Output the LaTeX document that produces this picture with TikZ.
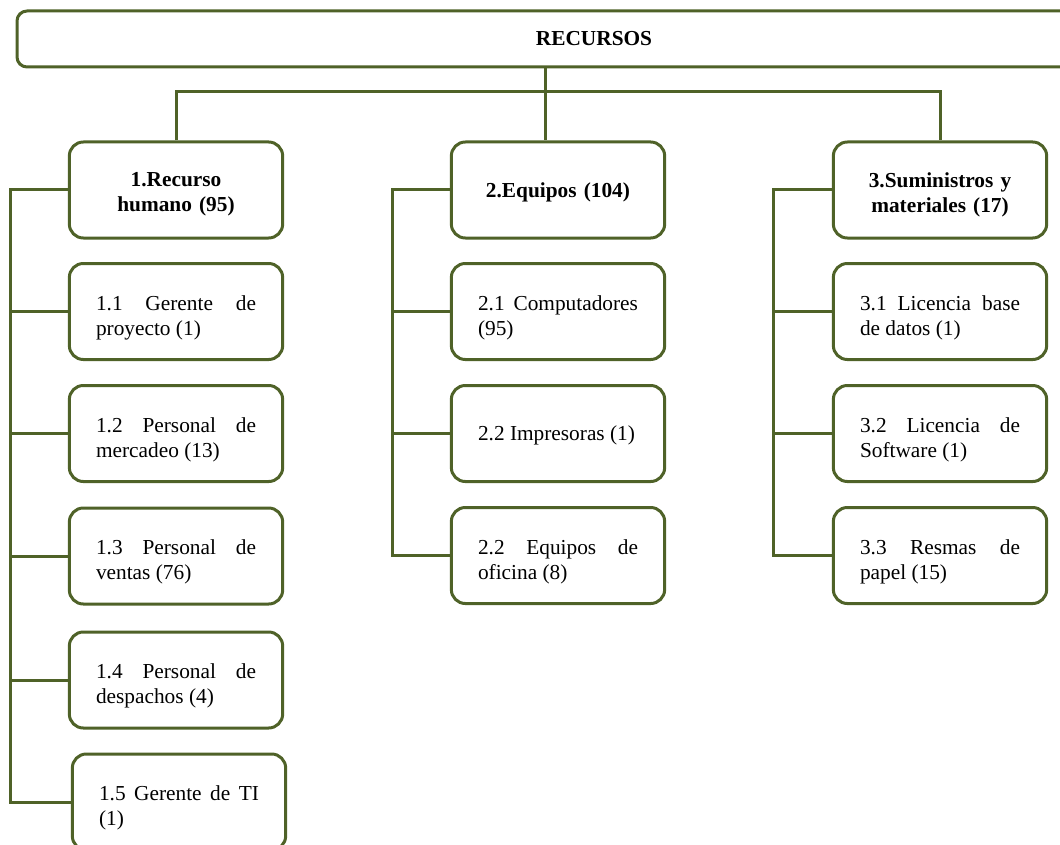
\documentclass[tikz,border=0pt]{standalone}
\usepackage{fontspec}
\setmainfont{Liberation Serif}
\definecolor{olivo}{RGB}{79,98,40}

\tikzset{
  linea/.style={draw=olivo, line width=2.25pt},
  caja/.style={draw=olivo, line width=2.25pt, rounded corners=10.5pt, fill=white,
    minimum width=160pt, minimum height=72pt, inner sep=0pt,
    font=\fontsize{16}{18.75}\selectfont},
  cajatop/.style={caja, minimum width=865.5pt, minimum height=42pt, rounded corners=7.5pt,
    font=\fontsize{16}{18.75}\selectfont\bfseries},
  titulo/.style={caja, text width=120pt, align=center,
    font=\fontsize{16}{18.75}\selectfont\bfseries, execute at end node={\par\vspace*{-7pt}}},
  item/.style={caja, text width=120pt, align=justify, execute at end node={\par\vspace*{-9pt}}}
}

\begin{document}
\begin{tikzpicture}[x=0.75pt,y=0.75pt,yscale=-1,xscale=1]
  \useasboundingbox (0,0) rectangle (1060,845);
  \clip (0,0) rectangle (1060,845);

  % raiz
  \node[cajatop] (rec) at (594,39) {RECURSOS};

  % niveles 1
  \node[titulo] (h1) at (176,190) {1.Recurso\\humano (95)};
  \node[titulo] (h2) at (558,190) {2.Equipos (104)};
  \node[titulo] (h3) at (940,190) {3.Suministros y\\materiales (17)};

  % recurso humano
  \node[item] (c11) at (176,311.5) {1.1 Gerente de\linebreak proyecto (1)};
  \node[item] (c12) at (176,433.5) {1.2 Personal de\linebreak mercadeo (13)};
  \node[item] (c13) at (176,556) {1.3 Personal de\linebreak ventas (76)};
  \node[item] (c14) at (176,680) {1.4 Personal de\linebreak despachos (4)};
  \node[item] (c15) at (179,802) {1.5 Gerente de TI\linebreak (1)};

  % equipos
  \node[item] (c21) at (558,311.5) {2.1 Computadores\linebreak (95)};
  \node[item] (c22) at (558,433.5) {2.2 Impresoras (1)};
  \node[item] (c23) at (558,555.5) {2.2 Equipos de\linebreak oficina (8)};

  % suministros
  \node[item] (c31) at (940,311.5) {3.1 Licencia base\linebreak de datos (1)};
  \node[item] (c32) at (940,433.5) {3.2 Licencia de\linebreak Software (1)};
  \node[item] (c33) at (940,555.5) {3.3 Resmas de\linebreak papel (15)};

  % conectores superiores
  \coordinate (tj) at (545,92);
  \draw[linea] (rec.south -| tj) -- (h2.north -| tj);
  \draw[linea] (h1.north) |- (tj) -| (h3.north);

  % troncos
  \draw[linea] (h1.west) -- ++(-57,0) coordinate (t1) |- (c15.west);
  \draw[linea] (h2.west) -- ++(-57,0) coordinate (t2) |- (c23.west);
  \draw[linea] (h3.west) -- ++(-58,0) coordinate (t3) |- (c33.west);
  \foreach \n in {c11,c12,c13,c14}
    \draw[linea] (\n.west) -- (\n.west -| t1);
  \foreach \n in {c21,c22}
    \draw[linea] (\n.west) -- (\n.west -| t2);
  \foreach \n in {c31,c32}
    \draw[linea] (\n.west) -- (\n.west -| t3);
\end{tikzpicture}
\end{document}
